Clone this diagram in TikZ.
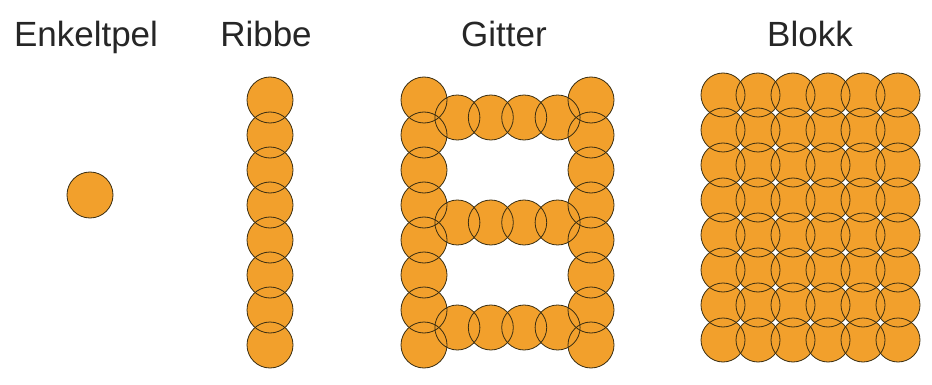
\documentclass[tikz,border=0pt]{standalone}
\usepackage{fontspec}
\setmainfont{Liberation Sans}
\definecolor{pelorange}{HTML}{F2A02C}
\definecolor{pelrim}{HTML}{3A2E12}

\begin{document}
\begin{tikzpicture}[x=1pt, y=-1pt,
  pel/.style={fill=pelorange},
  rim/.style={draw=pelrim, line width=0.8pt},
  title/.style={font=\fontsize{35}{35}\selectfont, text=black!85, anchor=base},
]
  \useasboundingbox[fill=white] (0,0) rectangle (932,385);
  % titles
  \node[title] (tenkel) at (86,47) {Enkeltpel};
  \node[title] (tribbe) at (266,47) {Ribbe};
  \node[title] (tgitter) at (504,47) {Gitter};
  \node[title] (tblokk) at (810,47) {Blokk};
  % first pass fills, second pass outlines (gives the lens shapes)
  \foreach \s in {pel, rim} {
    % single pile
    \path[\s] (90,195) circle (23);
    % ribbe
    \foreach \j in {0,...,7}
      \path[\s] (270,100+35*\j) circle (23);
    % gitter: two columns and three rows
    \foreach \x in {424,591}
      \foreach \j in {0,...,7}
        \path[\s] (\x,100+35*\j) circle (23);
    \foreach \y in {117.5,222.5,327.5}
      \foreach \i in {1,...,4}
        \path[\s] (424+33.4*\i,\y) circle (22.5);
    % blokk
    \foreach \i in {0,...,5}
      \foreach \j in {0,...,7}
        \path[\s] (723+35*\i,95+35*\j) circle (22);
  }
\end{tikzpicture}
\end{document}
